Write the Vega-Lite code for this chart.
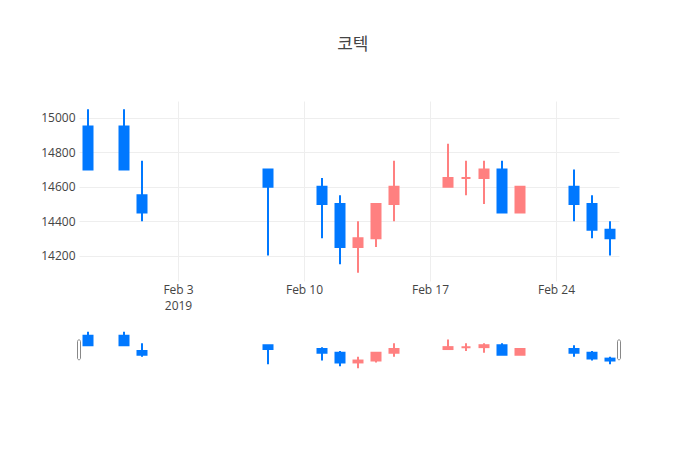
{
  "$schema": "https://vega.github.io/schema/vega-lite/v6.json",
  "background": "white",
  "padding": {"left": 40, "top": 36, "right": 70, "bottom": 10},
  "title": {
    "text": "코텍",
    "font": "Open Sans, Noto Sans CJK KR",
    "fontSize": 17,
    "fontWeight": "normal",
    "color": "#444",
    "anchor": "middle",
    "offset": 47,
    "dx": 22
  },
  "config": {
    "view": {"stroke": null},
    "font": "Open Sans",
    "axis": {
      "domain": false,
      "ticks": false,
      "grid": true,
      "gridColor": "#eee",
      "labelColor": "#444",
      "labelFontSize": 12,
      "labelFont": "Open Sans"
    }
  },
  "data": {
    "values": [
      {"date": "2019-01-29", "open": 14950, "high": 15050, "low": 14700, "close": 14700},
      {"date": "2019-01-31", "open": 14950, "high": 15050, "low": 14700, "close": 14700},
      {"date": "2019-02-01", "open": 14550, "high": 14750, "low": 14400, "close": 14450},
      {"date": "2019-02-08", "open": 14700, "high": 14700, "low": 14200, "close": 14600},
      {"date": "2019-02-11", "open": 14600, "high": 14650, "low": 14300, "close": 14500},
      {"date": "2019-02-12", "open": 14500, "high": 14550, "low": 14150, "close": 14250},
      {"date": "2019-02-13", "open": 14250, "high": 14400, "low": 14100, "close": 14300},
      {"date": "2019-02-14", "open": 14300, "high": 14500, "low": 14250, "close": 14500},
      {"date": "2019-02-15", "open": 14500, "high": 14750, "low": 14400, "close": 14600},
      {"date": "2019-02-18", "open": 14600, "high": 14850, "low": 14600, "close": 14650},
      {"date": "2019-02-19", "open": 14650, "high": 14750, "low": 14550, "close": 14650},
      {"date": "2019-02-20", "open": 14650, "high": 14750, "low": 14500, "close": 14700},
      {"date": "2019-02-21", "open": 14700, "high": 14750, "low": 14450, "close": 14450},
      {"date": "2019-02-22", "open": 14450, "high": 14600, "low": 14450, "close": 14600},
      {"date": "2019-02-25", "open": 14600, "high": 14700, "low": 14400, "close": 14500},
      {"date": "2019-02-26", "open": 14500, "high": 14550, "low": 14300, "close": 14350},
      {"date": "2019-02-27", "open": 14350, "high": 14400, "low": 14200, "close": 14300}
    ]
  },
  "spacing": 19,
  "vconcat": [
    {
      "width": 540,
      "height": 180,
      "encoding": {
        "x": {
          "field": "date",
          "type": "temporal",
          "title": null,
          "scale": {
            "type": "utc",
            "padding": 0,
            "domain": [
              {"year": 2019, "month": 1, "date": 28, "hours": 12, "utc": true},
              {"year": 2019, "month": 2, "date": 27, "hours": 12, "utc": true}
            ]
          },
          "axis": {
            "values": [
              {"year": 2019, "month": 2, "date": 3, "utc": true},
              {"year": 2019, "month": 2, "date": 10, "utc": true},
              {"year": 2019, "month": 2, "date": 17, "utc": true},
              {"year": 2019, "month": 2, "date": 24, "utc": true}
            ],
            "labelExpr": "utcdate(datum.value) == 3 ? [utcFormat(datum.value, '%b %-d'), '2019'] : utcFormat(datum.value, '%b %-d')",
            "labelPadding": 3,
            "labelLineHeight": 16
          }
        },
        "color": {
          "condition": {"test": "datum.close >= datum.open", "value": "#ff8080"},
          "value": "#0078ff"
        }
      },
      "layer": [
        {
          "mark": {"type": "rule", "strokeWidth": 2},
          "encoding": {
            "y": {
              "field": "low",
              "type": "quantitative",
              "title": null,
              "scale": {"domain": [14052.5, 15097.5], "nice": false, "zero": false},
              "axis": {"values": [14200, 14400, 14600, 14800, 15000], "format": "d", "labelPadding": 4}
            },
            "y2": {"field": "high"}
          }
        },
        {
          "mark": {"type": "bar", "width": 9, "strokeWidth": 2},
          "encoding": {
            "y": {"field": "open", "type": "quantitative"},
            "y2": {"field": "close"},
            "stroke": {
              "condition": {"test": "datum.close >= datum.open", "value": "#ff8080"},
              "value": "#0078ff"
            }
          }
        }
      ]
    },
    {
      "width": 540,
      "height": 40,
      "encoding": {
        "x": {
          "field": "date",
          "type": "temporal",
          "axis": null,
          "scale": {
            "type": "utc",
            "padding": 0,
            "domain": [
              {"year": 2019, "month": 1, "date": 28, "hours": 12, "utc": true},
              {"year": 2019, "month": 2, "date": 27, "hours": 12, "utc": true}
            ]
          }
        }
      },
      "layer": [
        {
          "mark": {"type": "rule", "strokeWidth": 2},
          "encoding": {
            "y": {
              "field": "low",
              "type": "quantitative",
              "axis": null,
              "scale": {"domain": [14052.5, 15097.5], "nice": false, "zero": false}
            },
            "y2": {"field": "high"},
            "color": {
              "condition": {"test": "datum.close >= datum.open", "value": "#ff8080"},
              "value": "#0078ff"
            }
          }
        },
        {
          "mark": {"type": "bar", "width": 9, "strokeWidth": 2},
          "encoding": {
            "y": {"field": "open", "type": "quantitative"},
            "y2": {"field": "close"},
            "color": {
              "condition": {"test": "datum.close >= datum.open", "value": "#ff8080"},
              "value": "#0078ff"
            },
            "stroke": {
              "condition": {"test": "datum.close >= datum.open", "value": "#ff8080"},
              "value": "#0078ff"
            }
          }
        },
        {
          "data": {
            "values": [
              {"date": "2019-01-28T12:00:00Z", "bottom": 14320, "top": 14840},
              {"date": "2019-02-27T12:00:00Z", "bottom": 14320, "top": 14840}
            ]
          },
          "mark": {"type": "bar", "width": 3, "fill": "white", "stroke": "#888", "strokeWidth": 1, "cornerRadius": 1.5},
          "encoding": {
            "y": {"field": "bottom", "type": "quantitative"},
            "y2": {"field": "top"}
          }
        }
      ]
    }
  ]
}
